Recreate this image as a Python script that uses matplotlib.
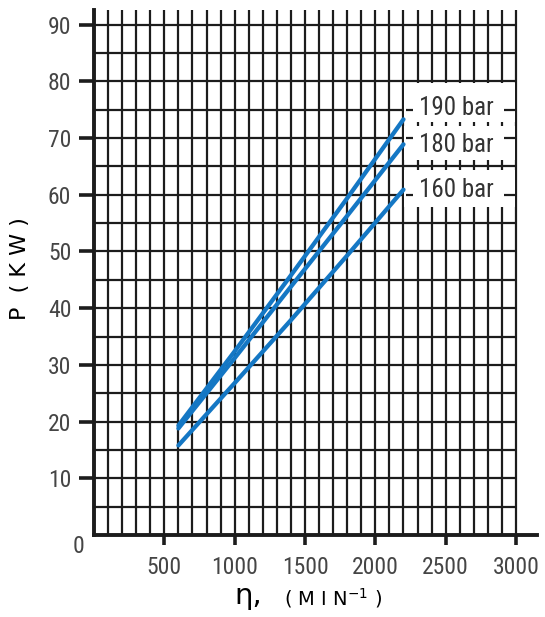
import matplotlib
matplotlib.use("Agg")
import matplotlib.pyplot as plt
from matplotlib import font_manager
from matplotlib.patches import Rectangle
import numpy as np

# pump power curves
speed = [600, 1000, 1400, 1800, 2200]
p_190 = [19.3, 32.4, 45.8, 59.4, 73.3]
p_180 = [18.8, 31.2, 43.8, 56.3, 68.9]
p_160 = [15.8, 26.8, 37.9, 49.3, 60.9]
curve_labels = ['190 bar', '180 bar', '160 bar']
label_y = [75.3, 68.8, 60.8]

x_ticks = [500, 1000, 1500, 2000, 2500, 3000]
y_ticks = [10, 20, 30, 40, 50, 60, 70, 80, 90]

names = {f.name for f in font_manager.fontManager.ttflist}
narrow = 'DejaVu Sans'
for cand in ['Liberation Sans Narrow', 'Roboto Condensed', 'DejaVu Sans Condensed']:
    if cand in names:
        narrow = cand
        break

blue = '#1477c4'
ink = '#1c1c1c'
grey = '#454545'

fig = plt.figure(figsize=(5.45, 6.17), dpi=100)
ax = fig.add_axes([0.1725, 0.1329, 0.813, 0.851])
ax.set_xlim(0, 3150)
ax.set_ylim(0, 92.6)

# dense grid: every 100 min-1 and every 5 kW, stopping at 3000
ax.vlines(np.arange(100, 3001, 100), 0, 92.6, color=ink, lw=1.6, zorder=1)
ax.hlines(np.arange(5, 91, 5), 0, 3000, color=ink, lw=1.6, zorder=1)

# white boxes behind the pressure labels
for y0, y1 in [(72.9, 79.7), (66.1, 72.1), (57.9, 64.4)]:
    ax.add_patch(Rectangle((2205, y0), 790, y1 - y0, facecolor='white',
                           edgecolor='none', zorder=2))
for yl in [75, 70, 60]:
    ax.hlines(yl, 2215, 2265, color=ink, lw=1.6, zorder=3)
    ax.hlines(yl, 2915, 2995, color=ink, lw=1.6, zorder=3)

for vals in [p_190, p_180, p_160]:
    ax.plot(speed, vals, color=blue, lw=3.1, solid_capstyle='round',
            solid_joinstyle='round', zorder=4)

for txt, yy in zip(curve_labels, label_y):
    ax.text(2575, yy, txt, ha='center', va='center', fontsize=18,
            family=narrow, color='#333333', zorder=5)

for s in ['top', 'right']:
    ax.spines[s].set_visible(False)
for s in ['left', 'bottom']:
    ax.spines[s].set_linewidth(2.8)
    ax.spines[s].set_color(ink)

ax.set_xticks(x_ticks)
ax.set_yticks(y_ticks)
ax.tick_params(axis='y', length=10.8, width=2.6, color=ink, pad=5.5,
               labelsize=17, labelcolor=grey)
ax.tick_params(axis='x', length=7.2, width=2.6, color=ink, pad=8,
               labelsize=17, labelcolor=grey)
for lab in ax.get_xticklabels() + ax.get_yticklabels():
    lab.set_family(narrow)

ax.annotate('0', xy=(0, 0), xytext=(-7, 0), textcoords='offset points',
            ha='right', va='top', fontsize=17, family=narrow, color=grey)

# axis titles
fig.text(0.037, 0.564, 'P  ( K W )', rotation=90, ha='center', va='center',
         fontsize=16, color='black')
fig.text(0.455, 0.021, 'η,', ha='center', va='baseline', fontsize=21,
         color='black')
fig.text(0.521, 0.019, '( M I N$^{\\mathregular{-1}}$ )', ha='left',
         va='baseline', fontsize=14, color='black')

fig.savefig('out.png', dpi=100)
